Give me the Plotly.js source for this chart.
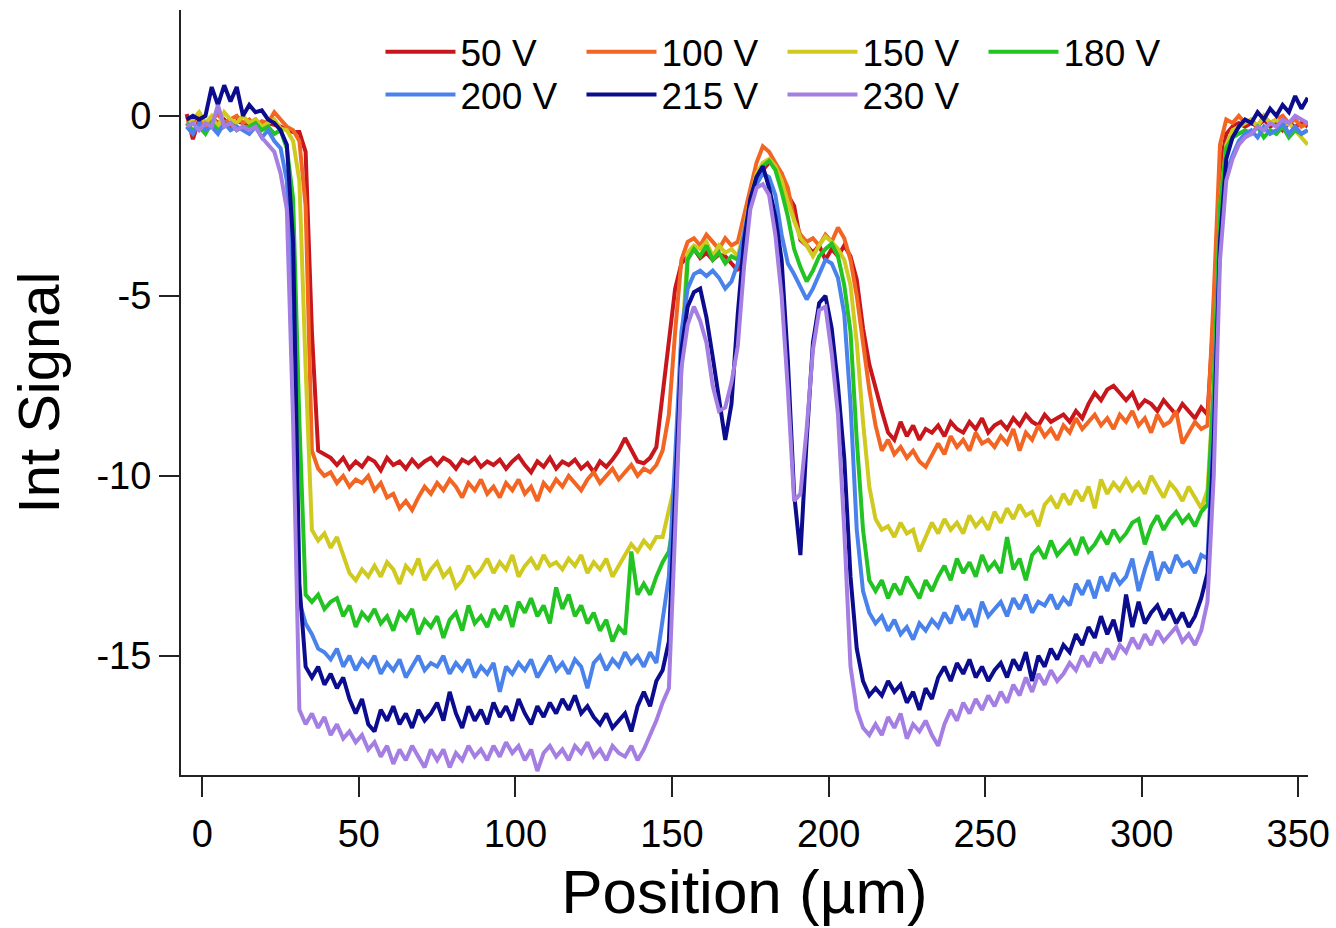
<!DOCTYPE html>
<html>
<head>
<meta charset="utf-8">
<script src="https://cdn.plot.ly/plotly-3.0.1.min.js"></script>
<style>
  html, body { margin: 0; padding: 0; background: #fff; }
  #chart { width: 1336px; height: 928px; }
</style>
</head>
<body>
<div id="chart"></div>
<script>
// Position along the profile (µm)
const positions = [
  -5,-3,-1,1,3,5,7,9,11,13,
  15,17,19,21,23,25,27,29,31,33,
  35,37,39,41,43,45,47,49,51,53,
  55,57,59,61,63,65,67,69,71,73,
  75,77,79,81,83,85,87,89,91,93,
  95,97,99,101,103,105,107,109,111,113,
  115,117,119,121,123,125,127,129,131,133,
  135,137,139,141,143,145,147,149,151,153,
  155,157,159,161,163,165,167,169,171,173,
  175,177,179,181,183,185,187,189,191,193,
  195,197,199,201,203,205,207,209,211,213,
  215,217,219,221,223,225,227,229,231,233,
  235,237,239,241,243,245,247,249,251,253,
  255,257,259,261,263,265,267,269,271,273,
  275,277,279,281,283,285,287,289,291,293,
  295,297,299,301,303,305,307,309,311,313,
  315,317,319,321,323,325,327,329,331,333,
  335,337,339,341,343,345,347,349,351,353
];

const seriesNames = ['50 V', '100 V', '150 V', '180 V', '200 V', '215 V', '230 V'];

const v50 = [
  0.05,-0.65,-0.1,-0.25,-0.05,-0.2,-0.1,-0.3,-0.15,-0.2,
  -0.2,-0.1,-0.3,-0.2,-0.25,-0.3,-0.4,-0.45,-0.45,-1.0,
  -6.0,-9.3,-9.4,-9.5,-9.7,-9.5,-9.8,-9.6,-9.75,-9.5,
  -9.6,-9.85,-9.5,-9.7,-9.6,-9.8,-9.55,-9.75,-9.6,-9.5,
  -9.7,-9.5,-9.6,-9.8,-9.55,-9.65,-9.5,-9.75,-9.6,-9.7,
  -9.55,-9.8,-9.6,-9.45,-9.7,-9.9,-9.6,-9.75,-9.5,-9.8,
  -9.6,-9.7,-9.55,-9.8,-9.65,-9.9,-9.6,-9.75,-9.55,-9.3,
  -8.95,-9.3,-9.6,-9.65,-9.5,-9.2,-7.8,-6.3,-4.8,-4.1,
  -3.9,-3.7,-3.95,-3.8,-4.0,-3.85,-3.9,-4.1,-4.3,-3.4,
  -2.5,-1.9,-1.5,-1.3,-1.35,-1.6,-2.2,-2.5,-3.45,-3.6,
  -3.8,-3.6,-4.0,-3.7,-3.9,-3.6,-3.9,-4.55,-5.9,-6.9,
  -7.6,-8.2,-8.8,-9.0,-8.5,-8.9,-8.6,-9.0,-8.7,-8.8,
  -8.6,-8.9,-8.5,-8.7,-8.8,-8.5,-8.7,-8.4,-8.8,-8.6,
  -8.5,-8.7,-8.4,-8.6,-8.3,-8.5,-8.6,-8.3,-8.5,-8.4,
  -8.3,-8.5,-8.2,-8.4,-8.0,-7.7,-7.9,-7.6,-7.5,-7.7,
  -7.9,-7.7,-8.1,-7.9,-8.0,-8.2,-7.9,-8.1,-8.3,-8.0,
  -8.2,-8.4,-8.1,-8.3,-5.5,-1.5,-0.5,-0.3,-0.2,-0.3,
  -0.2,-0.3,-0.1,-0.3,-0.2,-0.4,-0.2,-0.3,-0.2,-0.3
];

const v100 = [
  -0.1,-0.2,0.1,-0.3,-0.1,0.05,-0.2,-0.1,0.0,-0.2,
  -0.1,-0.3,-0.15,-0.2,0.1,-0.1,-0.3,-0.4,-0.7,-2.5,
  -9.3,-9.8,-10.0,-9.9,-10.2,-10.0,-10.3,-10.1,-10.2,-10.0,
  -10.4,-10.2,-10.6,-10.5,-10.9,-10.7,-10.95,-10.6,-10.3,-10.5,
  -10.2,-10.4,-10.1,-10.3,-10.6,-10.2,-10.4,-10.1,-10.5,-10.3,
  -10.6,-10.2,-10.4,-10.1,-10.5,-10.3,-10.7,-10.2,-10.4,-10.1,
  -10.3,-10.0,-10.2,-10.4,-10.1,-9.9,-10.2,-10.0,-9.8,-10.1,
  -9.9,-9.7,-10.0,-9.8,-9.9,-9.7,-9.3,-8.3,-6.0,-4.0,
  -3.5,-3.4,-3.6,-3.3,-3.5,-3.7,-3.4,-3.6,-3.5,-2.8,
  -2.0,-1.3,-0.85,-1.0,-1.3,-1.6,-2.0,-2.9,-3.3,-3.5,
  -3.4,-3.6,-3.3,-3.5,-3.1,-3.4,-4.0,-5.0,-6.3,-7.6,
  -8.6,-9.3,-9.0,-9.4,-9.2,-9.5,-9.3,-9.6,-9.75,-9.4,
  -9.1,-9.4,-8.9,-9.2,-9.0,-9.3,-8.8,-9.1,-9.0,-9.2,
  -8.9,-9.1,-8.7,-9.3,-8.8,-9.0,-8.6,-8.9,-8.7,-9.0,
  -8.6,-8.8,-8.4,-8.7,-8.5,-8.3,-8.6,-8.4,-8.7,-8.3,
  -8.5,-8.2,-8.6,-8.4,-8.8,-8.3,-8.6,-8.5,-8.2,-9.1,
  -8.8,-8.5,-8.7,-8.6,-5.0,-0.8,-0.1,-0.2,0.0,-0.2,
  -0.1,-0.3,0.0,-0.2,-0.1,0.0,-0.2,-0.1,-0.3,-0.2
];

const v150 = [
  -0.3,-0.1,0.1,-0.2,0.0,-0.3,0.1,-0.1,-0.2,0.0,
  -0.2,-0.1,-0.3,-0.2,-0.1,-0.35,-0.4,-0.7,-1.8,-7.0,
  -11.5,-11.8,-11.6,-12.0,-11.7,-12.2,-12.7,-12.9,-12.6,-12.8,
  -12.5,-12.8,-12.4,-12.6,-13.0,-12.5,-12.7,-12.3,-12.9,-12.6,
  -12.4,-12.8,-12.6,-13.1,-12.9,-12.5,-12.8,-12.6,-12.3,-12.7,
  -12.4,-12.6,-12.2,-12.8,-12.5,-12.3,-12.6,-12.2,-12.5,-12.4,
  -12.6,-12.3,-12.5,-12.2,-12.7,-12.4,-12.6,-12.3,-12.8,-12.5,
  -12.2,-11.9,-12.1,-11.8,-12.0,-11.7,-11.7,-11.0,-10.2,-6.5,
  -3.8,-3.6,-3.7,-3.5,-3.9,-3.6,-3.8,-3.7,-3.9,-3.2,
  -2.3,-1.6,-1.3,-1.2,-1.4,-1.8,-2.4,-2.9,-3.4,-3.6,
  -3.9,-3.6,-3.35,-3.5,-3.7,-4.0,-4.7,-6.3,-8.5,-10.3,
  -11.2,-11.5,-11.4,-11.7,-11.3,-11.6,-11.5,-12.1,-11.7,-11.3,
  -11.6,-11.2,-11.5,-11.3,-11.6,-11.1,-11.4,-11.2,-11.5,-11.0,
  -11.3,-10.9,-11.2,-10.8,-11.1,-11.0,-11.4,-10.8,-10.6,-10.9,
  -10.5,-10.8,-10.4,-10.7,-10.3,-10.9,-10.1,-10.5,-10.2,-10.4,
  -10.1,-10.4,-10.2,-10.5,-10.0,-10.3,-10.6,-10.2,-10.4,-10.7,
  -10.3,-10.6,-10.9,-10.4,-7.5,-2.5,-0.8,-0.4,-0.3,-0.2,
  -0.1,-0.3,0.0,-0.2,-0.1,-0.3,-0.2,-0.4,-0.6,-0.8
];

const v180 = [
  -0.2,-0.4,-0.3,-0.5,-0.2,-0.4,-0.3,-0.2,-0.4,-0.3,
  -0.3,-0.2,-0.4,-0.3,-0.5,-0.4,-0.9,-2.3,-8.5,-13.3,
  -13.5,-13.3,-13.7,-13.5,-13.4,-13.9,-13.6,-14.2,-13.8,-14.0,
  -13.7,-14.1,-13.9,-14.3,-13.8,-14.0,-13.7,-14.4,-14.0,-14.2,
  -13.9,-14.5,-14.0,-13.8,-14.3,-13.6,-14.1,-13.9,-14.2,-13.7,
  -14.0,-13.6,-14.2,-13.5,-13.8,-13.4,-13.9,-13.6,-14.1,-13.1,
  -13.7,-13.3,-13.9,-13.6,-14.1,-13.8,-14.3,-14.0,-14.6,-14.2,
  -14.4,-12.1,-13.3,-13.0,-13.3,-12.8,-12.4,-12.1,-11.0,-7.0,
  -4.0,-3.7,-3.9,-3.6,-4.0,-3.8,-4.1,-3.9,-4.0,-3.4,
  -2.4,-1.7,-1.4,-1.25,-1.5,-2.1,-2.8,-3.7,-4.2,-4.6,
  -4.3,-3.9,-3.7,-3.55,-3.9,-4.7,-6.0,-9.0,-11.5,-12.9,
  -13.2,-12.9,-13.4,-13.0,-13.3,-12.8,-13.1,-13.4,-12.9,-13.2,
  -12.8,-12.5,-12.9,-12.3,-12.7,-12.4,-12.8,-12.2,-12.6,-12.4,
  -12.7,-11.7,-12.6,-12.3,-12.9,-12.2,-12.0,-12.3,-11.8,-12.2,
  -12.0,-11.8,-12.2,-11.7,-12.1,-11.9,-11.6,-11.9,-11.5,-11.8,
  -11.6,-11.3,-11.2,-11.9,-11.4,-11.1,-11.5,-11.2,-11.0,-11.3,
  -11.1,-11.4,-11.0,-10.8,-7.5,-2.5,-0.9,-0.6,-0.5,-0.4,
  -0.5,-0.3,-0.6,-0.4,-0.5,-0.3,-0.6,-0.4,-0.5,-0.4
];

const v200 = [
  -0.3,-0.5,-0.2,-0.4,-0.3,-0.5,-0.2,-0.4,-0.3,-0.4,
  -0.5,-0.3,-0.6,-0.4,-0.7,-0.9,-1.8,-5.0,-13.5,-14.1,
  -14.4,-14.8,-14.9,-15.1,-14.8,-15.3,-15.0,-15.4,-15.1,-15.3,
  -15.0,-15.5,-15.2,-15.4,-15.1,-15.6,-15.3,-15.0,-15.4,-15.2,
  -15.3,-15.0,-15.5,-15.2,-15.4,-15.1,-15.6,-15.3,-15.5,-15.2,
  -16.0,-15.3,-15.5,-15.2,-15.4,-15.1,-15.6,-15.3,-15.0,-15.4,
  -15.2,-15.5,-15.1,-15.3,-15.9,-15.2,-15.0,-15.4,-15.1,-15.3,
  -14.9,-15.2,-15.0,-15.3,-14.9,-15.2,-14.0,-12.8,-9.5,-6.0,
  -4.8,-4.4,-4.3,-4.45,-4.3,-4.5,-4.8,-4.6,-4.1,-3.3,
  -2.4,-1.9,-1.6,-1.7,-2.2,-3.3,-4.1,-4.4,-4.75,-5.1,
  -4.8,-4.4,-4.0,-4.1,-4.5,-5.5,-8.0,-11.5,-13.2,-13.8,
  -14.1,-13.9,-14.3,-14.0,-14.4,-14.2,-14.55,-14.1,-14.3,-14.0,
  -14.2,-13.8,-14.1,-13.6,-14.0,-13.7,-14.2,-13.5,-13.9,-13.7,
  -13.5,-13.9,-13.4,-13.7,-13.3,-13.8,-13.5,-13.6,-13.3,-13.7,
  -13.4,-13.6,-13.0,-13.3,-12.9,-13.4,-12.8,-13.2,-12.7,-13.0,
  -12.8,-12.3,-13.2,-12.6,-12.1,-12.9,-12.4,-12.7,-12.2,-12.5,
  -12.4,-12.7,-12.2,-12.3,-8.5,-3.5,-1.6,-1.1,-0.7,-0.5,
  -0.4,-0.6,-0.3,-0.5,-0.4,-0.2,-0.5,-0.3,-0.5,-0.4
];

const v215 = [
  -0.1,0.0,-0.1,0.0,0.8,0.3,0.85,0.4,0.8,0.0,
  0.3,0.1,0.15,-0.1,-0.2,-0.4,-0.8,-3.5,-13.0,-15.3,
  -15.6,-15.3,-15.8,-15.5,-15.9,-15.6,-16.2,-16.6,-16.2,-16.9,
  -17.1,-16.5,-16.8,-16.4,-16.9,-16.6,-17.0,-16.5,-16.8,-16.6,
  -16.3,-16.8,-16.0,-16.6,-17.0,-16.4,-16.8,-16.5,-16.9,-16.3,
  -16.7,-16.4,-16.8,-16.2,-16.6,-16.9,-16.4,-16.7,-16.3,-16.6,
  -16.2,-16.5,-16.1,-16.6,-16.4,-16.7,-16.9,-16.6,-17.0,-16.8,
  -16.6,-17.1,-16.4,-16.0,-16.4,-15.7,-15.4,-14.6,-10.5,-6.5,
  -5.3,-4.9,-4.8,-5.6,-6.7,-7.8,-9.0,-8.0,-5.5,-3.5,
  -2.3,-1.7,-1.4,-2.0,-2.8,-4.0,-6.8,-10.5,-12.2,-9.0,
  -6.3,-5.2,-5.0,-5.9,-7.5,-9.5,-12.8,-14.8,-15.7,-16.1,
  -15.9,-16.1,-15.7,-16.0,-15.8,-16.3,-16.0,-16.5,-15.9,-16.2,
  -15.6,-15.3,-15.7,-15.2,-15.5,-15.1,-15.6,-15.3,-15.7,-15.4,
  -15.2,-15.6,-15.1,-15.4,-14.9,-15.7,-15.0,-15.3,-14.8,-15.1,
  -14.7,-14.9,-14.4,-14.7,-14.2,-14.5,-13.9,-14.4,-14.0,-14.6,
  -13.3,-14.2,-13.5,-14.1,-13.8,-13.6,-14.0,-13.7,-14.1,-13.8,
  -14.2,-13.9,-13.4,-12.7,-9.0,-3.5,-1.2,-0.6,-0.3,-0.1,
  -0.2,0.1,-0.1,0.2,0.0,0.3,0.1,0.55,0.2,0.5
];

const v230 = [
  -0.3,-0.2,-0.4,-0.2,-0.3,0.3,-0.3,-0.2,-0.4,-0.3,
  -0.4,-0.3,-0.6,-0.8,-1.0,-1.6,-2.6,-8.5,-16.5,-16.9,
  -16.6,-17.0,-16.7,-17.2,-16.9,-17.3,-17.1,-17.4,-17.2,-17.6,
  -17.4,-17.8,-17.5,-18.0,-17.6,-17.9,-17.5,-17.8,-18.1,-17.6,
  -17.9,-17.6,-18.1,-17.7,-17.9,-17.5,-17.8,-17.6,-17.9,-17.5,
  -17.8,-17.4,-17.7,-17.5,-17.9,-17.6,-18.2,-17.7,-17.5,-17.8,
  -17.6,-17.9,-17.5,-17.7,-17.4,-17.8,-17.6,-17.9,-17.5,-17.7,
  -17.8,-17.5,-17.9,-17.6,-17.2,-16.8,-16.3,-15.9,-11.5,-7.0,
  -5.8,-5.3,-5.7,-6.3,-7.5,-8.2,-8.1,-7.4,-6.4,-4.2,
  -2.6,-2.0,-1.9,-2.2,-3.3,-5.0,-7.6,-10.7,-10.5,-8.7,
  -6.5,-5.4,-5.3,-6.6,-8.3,-11.5,-15.3,-16.5,-17.0,-17.2,
  -16.9,-17.2,-16.7,-17.0,-16.6,-17.3,-16.9,-17.1,-16.8,-17.2,
  -17.5,-16.9,-16.5,-16.8,-16.3,-16.6,-16.2,-16.5,-16.1,-16.4,
  -16.0,-16.3,-15.8,-16.1,-15.6,-16.0,-15.5,-15.8,-15.4,-15.7,
  -15.5,-15.2,-15.4,-15.0,-15.3,-14.9,-15.2,-14.8,-15.1,-14.7,
  -14.9,-14.5,-14.8,-14.4,-14.7,-14.3,-14.6,-14.4,-14.2,-14.6,
  -14.4,-14.7,-14.3,-13.5,-10.0,-4.0,-1.8,-1.2,-0.8,-0.6,
  -0.5,-0.3,-0.4,-0.2,-0.3,-0.1,-0.2,0.0,-0.1,-0.2
];

const xTickVals = [0, 50, 100, 150, 200, 250, 300, 350];
const yTickVals = [0, -5, -10, -15];

const allValues = [v50, v100, v150, v180, v200, v215, v230];
const colors = ['#c8161d', '#f26522', '#cfc920', '#22c322', '#4a82ec', '#0c0c8e', '#a47ee2'];
const legendIds = ['legend', 'legend', 'legend', 'legend', 'legend2', 'legend2', 'legend2'];

const FONT = 'Liberation Sans, Arial, Helvetica, sans-serif';

const traces = allValues.map((vals, i) => ({
  type: 'scatter',
  mode: 'lines',
  x: positions,
  y: vals,
  name: seriesNames[i],
  legend: legendIds[i],
  line: { color: colors[i], width: 4 },
  hoverinfo: 'skip'
}));

const legendCommon = {
  orientation: 'h',
  xanchor: 'left',
  yanchor: 'middle',
  font: { family: FONT, size: 37, color: '#000' },
  itemwidth: 70,
  entrywidth: 116,
  entrywidthmode: 'pixels',
  bgcolor: 'rgba(0,0,0,0)',
  borderwidth: 0,
  traceorder: 'normal'
};

const layout = {
  width: 1336,
  height: 928,
  margin: { l: 181, r: 28, t: 10, b: 153, pad: 0 },
  paper_bgcolor: '#fff',
  plot_bgcolor: '#fff',
  font: { family: FONT, color: '#000' },
  showlegend: true,
  legend: Object.assign({}, legendCommon, { x: 0.177, y: 0.945 }),
  legend2: Object.assign({}, legendCommon, { x: 0.177, y: 0.889 }),
  xaxis: {
    range: [-6.8, 353.1],
    tickmode: 'array',
    tickvals: xTickVals,
    ticktext: xTickVals.map(String),
    ticks: 'outside',
    ticklen: 20,
    tickwidth: 2,
    tickcolor: '#222',
    ticklabelstandoff: 4,
    showline: true,
    linecolor: '#222',
    linewidth: 2,
    showgrid: false,
    zeroline: false,
    tickfont: { family: FONT, size: 38, color: '#000' },
    title: { text: 'Position (µm)', font: { family: FONT, size: 62, color: '#000' }, standoff: 16 }
  },
  yaxis: {
    range: [-18.31, 2.94],
    tickmode: 'array',
    tickvals: yTickVals,
    ticktext: yTickVals.map(String),
    ticks: 'outside',
    ticklen: 20,
    tickwidth: 2,
    tickcolor: '#222',
    showline: true,
    linecolor: '#222',
    linewidth: 2,
    showgrid: false,
    zeroline: false,
    tickfont: { family: FONT, size: 38, color: '#000' },
    title: { text: 'Int Signal', font: { family: FONT, size: 58, color: '#000' }, standoff: 18 }
  }
};

Plotly.newPlot('chart', traces, layout, { staticPlot: true, displayModeBar: false });
</script>
</body>
</html>
